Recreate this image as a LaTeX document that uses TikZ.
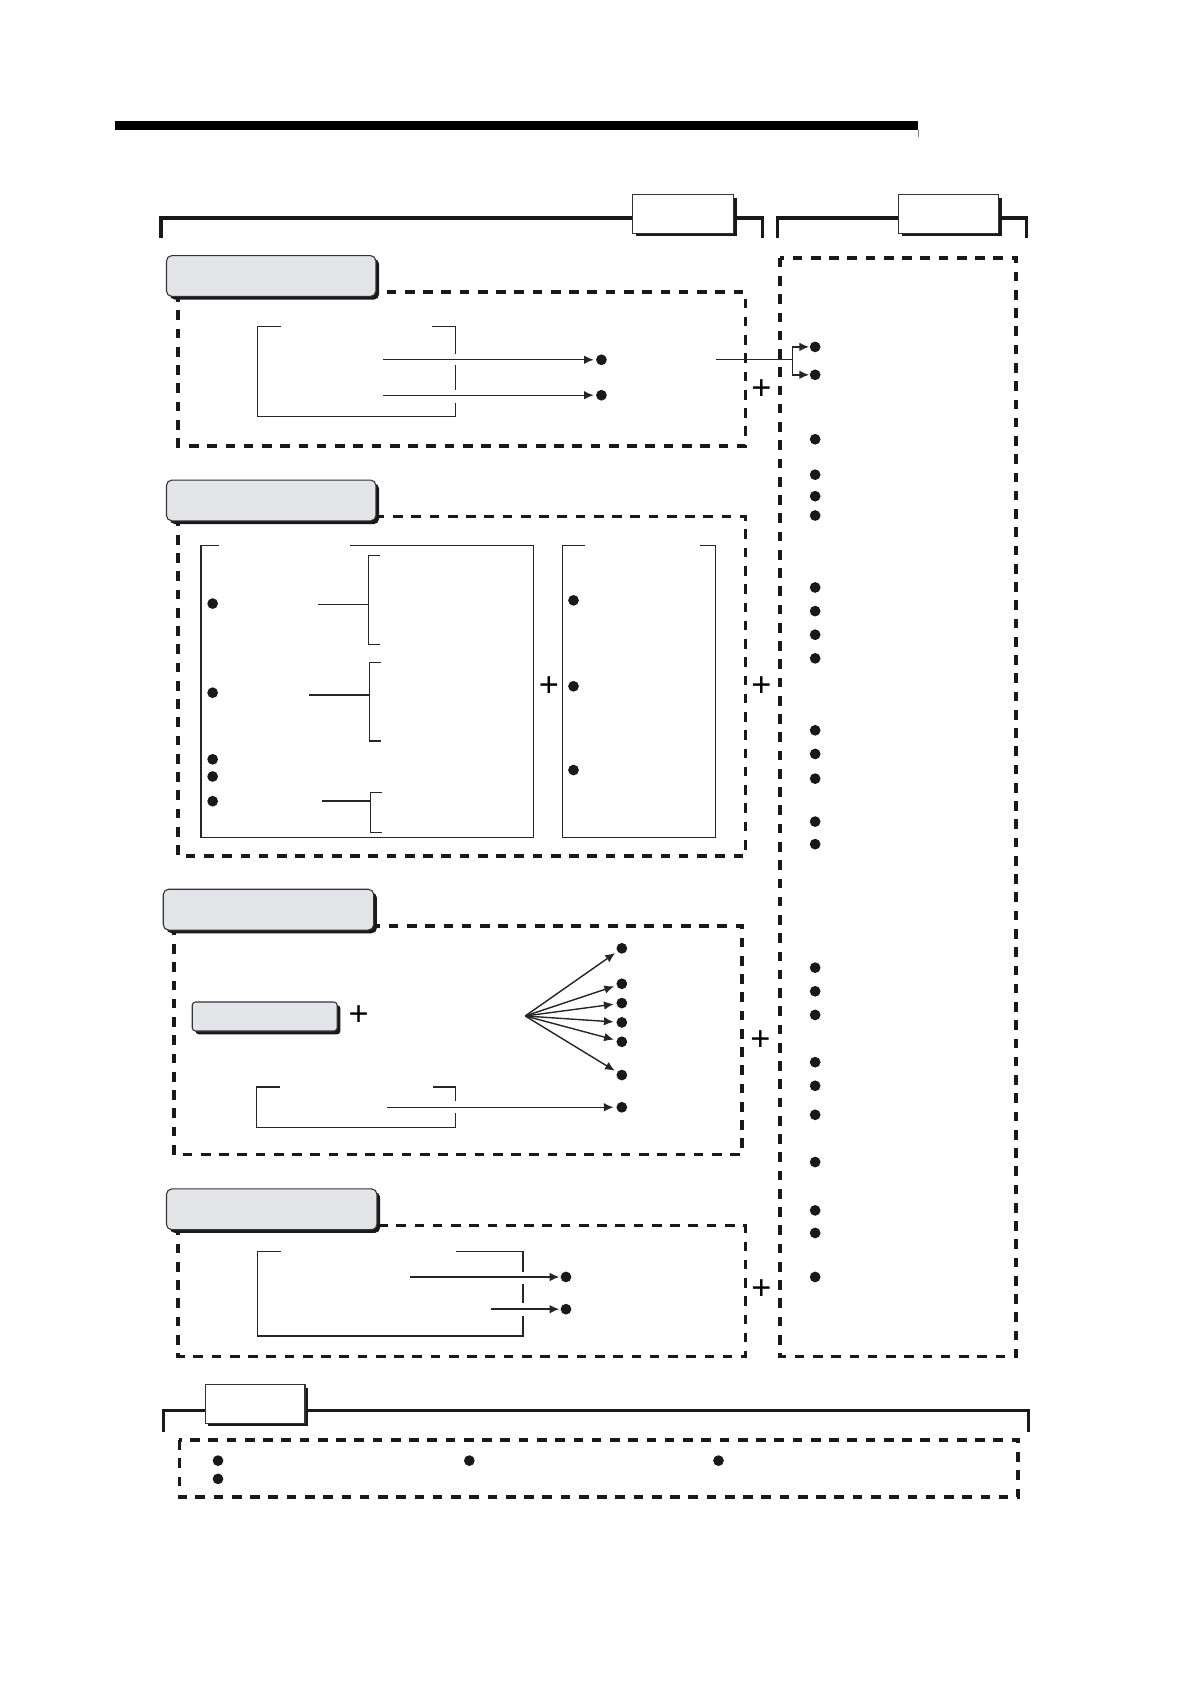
\documentclass[tikz,border=0pt]{standalone}
\usepackage{fontspec}
\setmainfont{Liberation Sans}
\usetikzlibrary{arrows.meta,shadows,calc}
\definecolor{lblgray}{RGB}{227,228,232}
\begin{document}
\begin{tikzpicture}[x=1pt,y=-1pt,
  dashbox/.style={draw=black!90,line width=3.4pt,dash pattern=on 9pt off 8pt},
  shad/.style={drop shadow={shadow xshift=3pt,shadow yshift=-3pt,opacity=1,fill=black!90}},
  lbl/.style={draw=black!80,line width=1pt,fill=lblgray,rounded corners=5pt,inner sep=0pt,shad},
  tag/.style={draw=black!80,line width=1pt,fill=white,inner sep=0pt,shad},
  brk/.style={line width=3pt,black!90},
  thin/.style={line width=1.3pt,black!85},
  arr/.style={thin,-{Latex[length=9pt,width=8pt]}},
  dot/.style={circle,fill=black!90,inner sep=0pt,minimum size=10pt},
  plus/.style={inner sep=0pt,font=\fontsize{32}{32}\selectfont}
]
\useasboundingbox (0,0) rectangle (1108,1568);
\fill[white] (0,0) rectangle (1108,1568);

% top bar
\fill[black] (107,113) rectangle (855,121);
\draw[gray,line width=0.8pt] (855,121)--(855,128);

% header brackets
\draw[brk] (150,222)--(150,203)--(710,203)--(710,222);
\draw[brk] (724,222)--(724,203)--(956,203)--(956,222);
\node[tag,minimum width=94pt,minimum height=36pt] (tagL) at (636,199) {};
\node[tag,minimum width=93pt,minimum height=36pt] (tagR) at (883.5,199) {};

% right column
\draw[dashbox] (726,240) rectangle (946,1263);
\foreach \y [count=\i] in {323,349,409,442,462,480,547,569,591,613,680,702,725,765,786,901,923,945,989,1011,1038,1082,1127,1148,1189}
  \node[dot] (r\i) at (759,\y) {};

% ---------- section 1
\draw[dashbox] (166,272) rectangle (694,415);
\node[lbl,minimum width=195pt,minimum height=38pt] (l1) at (252.5,257) {};
\draw[thin] (262,304)--(240,304)--(240,388)--(424,388)--(424,375);
\draw[thin] (402,304)--(424,304)--(424,330);
\draw[thin] (424,340)--(424,363);
\node[dot] (s1a) at (560,335) {};
\node[dot] (s1b) at (560,368) {};
\coordinate (s1ao) at (357,335);
\coordinate (s1bo) at (357,368);
\draw[arr,shorten >=2pt] (s1ao) -- (s1a);
\draw[arr,shorten >=2pt] (s1bo) -- (s1b);
\coordinate (j0) at (667,335);
\coordinate (j1) at (738,335);
\draw[thin] (j0) -- (j1);
\draw[arr,shorten >=0.5pt] (j1) |- (r1);
\draw[arr,shorten >=0.5pt] (j1) |- (r2);

% ---------- section 2
\draw[dashbox] (166,481) rectangle (694,797);
\node[lbl,minimum width=195pt,minimum height=38pt] (l2) at (252.5,466) {};
\draw[thin] (204,508)--(187,508)--(187,780)--(497,780)--(497,508)--(326,508);
\draw[thin] (545,508)--(524,508)--(524,780)--(666,780)--(666,508)--(652,508);
\foreach \y [count=\i] in {562,645,707,723,746}
  \node[dot] (a\i) at (198,\y) {};
\foreach \y [count=\i] in {559,639,717}
  \node[dot] (b\i) at (534,\y) {};
\draw[thin] (354,517)--(343,517)--(343,600)--(354,600);
\draw[thin] (296,563)--(343,563);
\draw[thin] (355,617)--(344,617)--(344,690)--(355,690);
\draw[thin] (288,647)--(344,647);
\draw[thin] (356,738)--(345,738)--(345,775)--(356,775);
\draw[thin] (300,746)--(345,746);

% ---------- section 3
\draw[dashbox] (162,862) rectangle (691,1075);
\node[lbl,minimum width=196pt,minimum height=38pt] (l3) at (250,847) {};
\node[lbl,rounded corners=3pt,minimum width=135pt,minimum height=27pt] (g3) at (246.5,946.5) {};
\coordinate (fan) at (489,946);
\foreach \y [count=\i] in {883,916,934,952,970,1001}{
  \node[dot] (c\i) at (579,\y) {};
  \draw[arr,shorten >=2.5pt] (fan) -- (c\i);
}
\draw[thin] (261,1012)--(239,1012)--(239,1050)--(424,1050)--(424,1036);
\draw[thin] (403,1012)--(424,1012)--(424,1025);
\node[dot] (c7) at (579,1031) {};
\coordinate (c7o) at (360,1031);
\draw[arr,shorten >=2.5pt] (c7o) -- (c7);

% ---------- section 4
\draw[dashbox] (166,1141) rectangle (694,1263);
\node[lbl,minimum width=196pt,minimum height=38pt] (l4) at (253,1126) {};
\draw[thin] (262,1165)--(240,1165)--(240,1244)--(487,1244)--(487,1225);
\draw[thin] (425,1165)--(487,1165)--(487,1184);
\draw[thin] (487,1196)--(487,1213);
\node[dot] (e1) at (527,1189) {};
\node[dot] (e2) at (527,1219) {};
\coordinate (e1o) at (382,1189);
\coordinate (e2o) at (457,1219);
\draw[arr,shorten >=1pt] (e1o) -- (e1);
\draw[arr,shorten >=1pt] (e2o) -- (e2);

% plus signs
\node[plus] (p1) at (709,363) {+};
\node[plus] (p2) at (709,639) {+};
\node[plus] (p3) at (708,969) {+};
\node[plus] (p4) at (709,1201) {+};
\node[plus] (p5) at (511,639) {+};
\node[plus] (p6) at (334,946) {+};

% ---------- bottom
\draw[brk] (152,1333)--(152,1313)--(958,1313)--(958,1333);
\node[tag,minimum width=93pt,minimum height=36pt] (tagB) at (237.5,1307) {};
\draw[dashbox] (167,1341) rectangle (948,1394);
\node[dot] (f1) at (203,1360) {};
\node[dot] (f2) at (203,1377) {};
\node[dot] (f3) at (437,1360) {};
\node[dot] (f4) at (669,1360) {};
\end{tikzpicture}
\end{document}
